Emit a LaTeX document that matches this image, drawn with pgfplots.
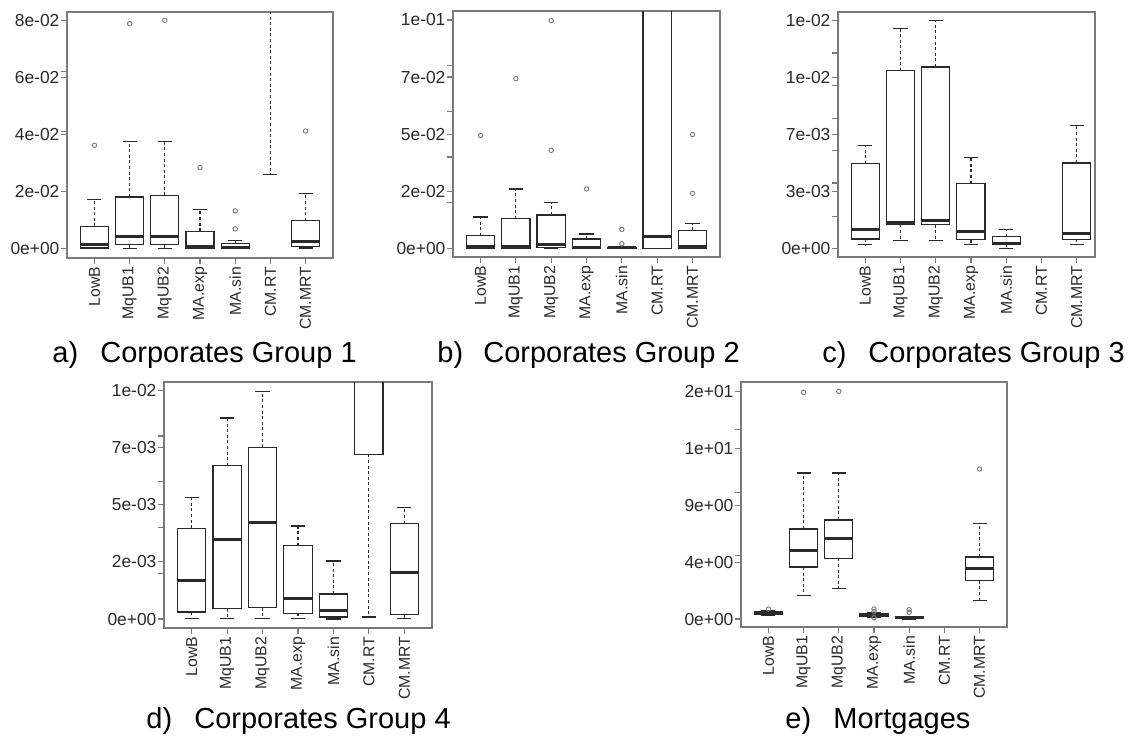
\documentclass[border=0pt]{standalone}
\usepackage{pgfplots}
\pgfplotsset{compat=1.18}
\usepgfplotslibrary{statistics}
\usepackage{fontspec}
\setmainfont{Liberation Sans}
\definecolor{frame}{HTML}{7A7A7A}
\definecolor{ink}{HTML}{2A2A2A}
\definecolor{outl}{HTML}{808080}
\pgfplotsset{
  rbox/.style={
    scale only axis, anchor=north west,
    xmin=0.22, xmax=7.78,
    xtick={1,2,3,4,5,6,7},
    xticklabels={LowB,MqUB1,MqUB2,MA.exp,MA.sin,CM.RT,CM.MRT},
    xticklabel style={rotate=90, anchor=east, font=\fontsize{7.9}{8}\selectfont, text=ink, inner sep=1.5pt},
    yticklabel style={font=\fontsize{8.7}{9}\selectfont, text=ink, inner sep=0.8pt},
    tick pos=left, tick align=outside, major tick length=2.8pt,
    tick style={draw=frame, line width=0.6pt},
    axis line style={draw=frame, line width=0.75pt},
    extra y tick labels={},
    extra y tick style={tick pos=left, tick align=outside, major tick length=2.8pt},
    clip=true,
  },
  bxs/.style={
    draw=ink, line width=0.6pt, solid,
    mark=o, mark size=1.1pt, mark options={draw=outl, line width=0.5pt, solid},
    boxplot/draw direction=y,
    boxplot/box extend=0.8,
    boxplot/whisker extend=0.4,
    boxplot/draw/box/.code={\draw[ink, line width=0.6pt] (boxplot box cs:\pgfplotsboxplotvalue{lower quartile},0) rectangle (boxplot box cs:\pgfplotsboxplotvalue{upper quartile},1);},
    boxplot/draw/median/.code={\draw[ink, line width=1.5pt] (boxplot box cs:\pgfplotsboxplotvalue{median},0) -- (boxplot box cs:\pgfplotsboxplotvalue{median},1);},
    boxplot/draw/lower whisker/.code={\draw[ink, line width=0.6pt, dash pattern=on 1.5pt off 1.3pt] (boxplot box cs:\pgfplotsboxplotvalue{lower quartile},0.5) -- (boxplot box cs:\pgfplotsboxplotvalue{lower whisker},0.5);
      \draw[ink, line width=0.6pt] (boxplot whisker cs:\pgfplotsboxplotvalue{lower whisker},0) -- (boxplot whisker cs:\pgfplotsboxplotvalue{lower whisker},1);},
    boxplot/draw/upper whisker/.code={\draw[ink, line width=0.6pt, dash pattern=on 1.5pt off 1.3pt] (boxplot box cs:\pgfplotsboxplotvalue{upper quartile},0.5) -- (boxplot box cs:\pgfplotsboxplotvalue{upper whisker},0.5);
      \draw[ink, line width=0.6pt] (boxplot whisker cs:\pgfplotsboxplotvalue{upper whisker},0) -- (boxplot whisker cs:\pgfplotsboxplotvalue{upper whisker},1);},
  },
}
% box with outliers: position, lw, lq, med, uq, uw, outliers (each followed by \\)
\newcommand{\bxo}[7]{\addplot[bxs, boxplot prepared={draw position=#1, lower whisker=#2, lower quartile=#3, median=#4, upper quartile=#5, upper whisker=#6}] table[row sep=\\, y index=0] {d\\ #7};}
\newcommand{\bxn}[6]{\addplot[bxs, boxplot prepared={draw position=#1, lower whisker=#2, lower quartile=#3, median=#4, upper quartile=#5, upper whisker=#6}] coordinates {};}
\begin{document}
\begin{tikzpicture}
\path[use as bounding box] (0pt,0pt) rectangle (567.5pt,-368pt);

% a) Corporates Group 1  (values in units of 1e-2)
\begin{axis}[rbox, at={(33.5pt,-6pt)}, width=133pt, height=123pt,
  ymin=-0.33, ymax=8.29,
  ytick={0,2,4,6,8},
  yticklabels={0e+00,2e-02,4e-02,6e-02,8e-02},
  extra y ticks={4.1,6.2}]
\bxo{1}{0}{0.02}{0.15}{0.78}{1.73}{3.62\\}
\bxo{2}{0}{0.14}{0.44}{1.81}{3.74}{7.88\\}
\bxo{3}{0}{0.14}{0.44}{1.87}{3.74}{8.00\\}
\bxo{4}{0}{0.02}{0.09}{0.61}{1.37}{2.84\\}
\bxo{5}{0}{0.01}{0.05}{0.18}{0.29}{0.69\\ 1.32\\}
\bxn{6}{2.6}{9.5}{11}{13}{20}
\bxo{7}{0.02}{0.08}{0.26}{0.97}{1.92}{4.12\\}
\end{axis}

% b) Corporates Group 2  (values in units of 1e-2)
\begin{axis}[rbox, at={(226.5pt,-5.5pt)}, width=133.5pt, height=123pt,
  ymin=-0.38, ymax=10.39,
  ytick={0,2.5,5,7.5,10},
  yticklabels={0e+00,2e-02,5e-02,7e-02,1e-01},
  extra y ticks={2,4,6,8}]
\bxo{1}{0}{0.01}{0.07}{0.55}{1.37}{4.94\\}
\bxo{2}{0}{0.01}{0.07}{1.29}{2.60}{7.43\\}
\bxo{3}{0}{0.03}{0.15}{1.46}{2.00}{4.29\\ 9.97\\}
\bxo{4}{0}{0.01}{0.04}{0.41}{0.63}{2.60\\}
\bxo{5}{0}{0.01}{0.02}{0.04}{0.06}{0.20\\ 0.83\\}
\bxn{6}{0}{0}{0.51}{20}{30}
\bxo{7}{0}{0.01}{0.07}{0.79}{1.07}{2.41\\ 4.98\\}
\end{axis}

% c) Corporates Group 3  (values in units of 1e-3)
\begin{axis}[rbox, at={(419pt,-6pt)}, width=128.5pt, height=122.5pt,
  xmin=0.227, xmax=7.52,
  ymin=-0.487, ymax=13.82,
  ytick={0,3.33333,6.66667,10,13.33333},
  yticklabels={0e+00,3e-03,7e-03,1e-02,1e-02},
  extra y ticks={1.89,3.83,5.74,7.59,9.54,11.43}]
\bxn{1}{0.23}{0.56}{1.11}{4.96}{6.03}
\bxn{2}{0.49}{1.42}{1.50}{10.39}{12.85}
\bxn{3}{0.49}{1.40}{1.65}{10.61}{13.31}
\bxn{4}{0.23}{0.53}{1.01}{3.80}{5.31}
\bxn{5}{0}{0.25}{0.33}{0.70}{1.11}
\bxn{7}{0.23}{0.55}{0.91}{5.00}{7.18}
\end{axis}

% d) Corporates Group 4  (values in units of 1e-3)
\begin{axis}[rbox, at={(82pt,-191pt)}, width=134pt, height=123pt,
  ymin=-0.39, ymax=10.36,
  ytick={0,2.5,5,7.5,10},
  yticklabels={0e+00,2e-03,5e-03,7e-03,1e-02},
  extra y ticks={2,4,6,8}]
\bxn{1}{0.03}{0.31}{1.69}{3.97}{5.31}
\bxn{2}{0.03}{0.45}{3.49}{6.70}{8.79}
\bxn{3}{0.03}{0.49}{4.23}{7.51}{9.93}
\bxn{4}{0.03}{0.25}{0.89}{3.21}{4.07}
\bxn{5}{0}{0.09}{0.36}{1.10}{2.54}
\bxn{6}{0.09}{7.20}{20}{30}{40}
\bxn{7}{0.03}{0.20}{2.02}{4.17}{4.87}
\end{axis}

% e) Mortgages
\begin{axis}[rbox, at={(370.5pt,-191pt)}, width=133pt, height=122.5pt,
  ymin=-0.632, ymax=18.74,
  ytick={0,4.5,9,13.5,18},
  yticklabels={0e+00,4e+00,9e+00,1e+01,2e+01},
  extra y ticks={5,10,15}]
\bxo{1}{0.32}{0.40}{0.47}{0.58}{0.69}{0.79\\}
\bxo{2}{1.87}{4.11}{5.40}{7.12}{11.54}{17.92\\}
\bxo{3}{2.42}{4.80}{6.38}{7.83}{11.54}{18.0\\}
\bxo{4}{0.16}{0.24}{0.32}{0.42}{0.53}{0.10\\ 0.60\\ 0.79\\}
\bxo{5}{0}{0.05}{0.10}{0.16}{0.21}{0.53\\ 0.74\\}
\bxo{7}{1.48}{3.03}{4.03}{4.90}{7.56}{11.86\\}
\end{axis}

% captions
\begin{scope}[every node/.style={anchor=base west, font=\fontsize{14.5}{16}\selectfont, inner sep=0pt}]
\node at (26pt,-181pt) {a)};   \node at (50pt,-181pt) {Corporates Group 1};
\node at (218.5pt,-181pt) {b)}; \node at (241.5pt,-181pt) {Corporates Group 2};
\node at (411pt,-181pt) {c)};  \node at (434pt,-181pt) {Corporates Group 3};
\node at (73pt,-364pt) {d)};   \node at (97pt,-364pt) {Corporates Group 4};
\node at (392.5pt,-364pt) {e)}; \node at (416.5pt,-364pt) {Mortgages};
\end{scope}
\end{tikzpicture}
\end{document}
